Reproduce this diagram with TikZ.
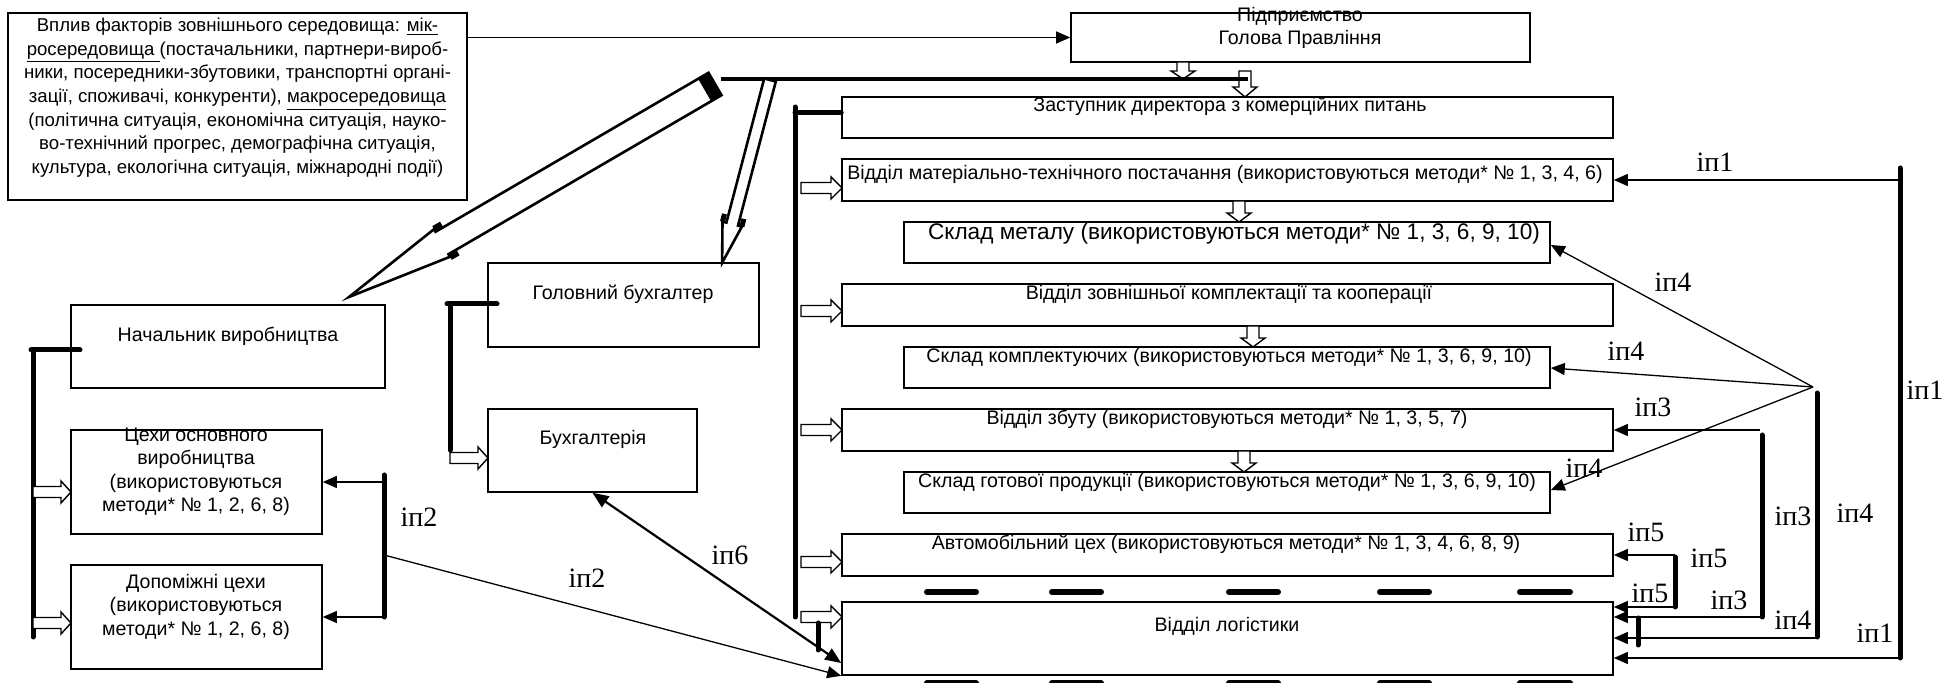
\documentclass[tikz,border=0pt]{standalone}
\usepackage{fontspec}
\setmainfont{Liberation Sans}
\newfontfamily\lblfont{Liberation Serif}
\usetikzlibrary{arrows.meta,fit}
\begin{document}
\begin{tikzpicture}[x=0.5pt,y=-0.5pt,
  box/.style={draw, line width=0.8pt, inner sep=0pt, fit={#1}},
  txt/.style={inner sep=0pt, font=\fontsize{9.8pt}{11.7pt}\selectfont},
  lbl/.style={inner sep=0pt, font=\lblfont\fontsize{14pt}{16pt}\selectfont},
  arr/.style={line width=0.65pt, -{Triangle[length=7pt,width=6pt]}},
  dbl/.style={line width=1.1pt, {Triangle[length=8pt,width=6.5pt]}-{Triangle[length=8pt,width=6.5pt]}},
  bar/.style={line width=2.5pt, line cap=round},
  dsh/.style={line width=3pt, line cap=round},
  hollow/.style={draw, fill=white, line width=0.7pt, line join=miter},
  big/.style={draw, fill=white, line width=1.3pt, line join=miter},
  pics/hr/.style args={#1/#2/#3/#4}{code={\path[hollow] (0,-#2) -- (#1-#4,-#2) -- (#1-#4,-#3) -- (#1,0) -- (#1-#4,#3) -- (#1-#4,#2) -- (0,#2) -- cycle;}}
]
\useasboundingbox (0,0) rectangle (1944,683);

% ---------- boxes ----------
\node[box={(8,13)(467,200)}] (env) {};
\node[box={(1071,13)(1530,62)}] (pid) {};
\node[box={(842,97)(1613,138)}] (zast) {};
\node[box={(842,159)(1613,201)}] (vmt) {};
\node[box={(904,222)(1550,263)}] (skm) {};
\node[box={(842,284)(1613,326)}] (vzk) {};
\node[box={(904,347)(1550,388)}] (skk) {};
\node[box={(842,409)(1613,451)}] (vz) {};
\node[box={(904,472)(1550,513)}] (skg) {};
\node[box={(842,534)(1613,576)}] (avt) {};
\node[box={(842,602)(1613,675)}] (log) {};
\node[box={(71,305)(385,388)}] (nach) {};
\node[box={(71,430)(322,534)}] (tsekh) {};
\node[box={(71,565)(322,669)}] (dop) {};
\node[box={(488,263)(759,347)}] (gb) {};
\node[box={(488,409)(697,492)}] (buh) {};

% ---------- texts ----------
\node[txt, anchor=north, align=center, font=\fontsize{9.3pt}{11.85pt}\selectfont] (envt) at (237.5,14.4) {\strut Вплив факторів зовнішнього середовища: \underline{мік-}\\
\underline{росередовища }(постачальники, партнери-вироб-\\
ники, посередники-збутовики, транспортні органі-\\
зації, споживачі, конкуренти), \underline{макросередовища}\\
(політична ситуація, економічна ситуація, науко-\\
во-технічний прогрес, демографічна ситуація,\\
культура, екологічна ситуація, міжнародні події)};
\node[txt, anchor=north, align=center] (pidt) at (1300,4.6) {\strut Підприємство\\Голова Правління};
\node[txt, anchor=base] (zastt) at (1230,112) {Заступник директора з комерційних питань};
\node[txt, anchor=base] (vmtt) at (1225,179.5) {Відділ матеріально-технічного постачання (використовуються методи* № 1, 3, 4, 6)};
\node[txt, anchor=base, font=\fontsize{11.3pt}{13pt}\selectfont] (skmt) at (1234,239.5) {Склад металу (використовуються методи* № 1, 3, 6, 9, 10)};
\node[txt, anchor=base] (vzkt) at (1229,299.5) {Відділ зовнішньої комплектації та кооперації};
\node[txt, anchor=base] (skkt) at (1229,362.5) {Склад комплектуючих (використовуються методи* № 1, 3, 6, 9, 10)};
\node[txt, anchor=base] (vzt) at (1227,424.5) {Відділ збуту (використовуються методи* № 1, 3, 5, 7)};
\node[txt, anchor=base] (skgt) at (1227,487.5) {Склад готової продукції (використовуються методи* № 1, 3, 6, 9, 10)};
\node[txt, anchor=base] (avtt) at (1226,549.5) {Автомобільний цех (використовуються методи* № 1, 3, 4, 6, 8, 9)};
\node[txt, anchor=base] (logt) at (1227,632) {Відділ логістики};
\node[txt, anchor=base] (nacht) at (228,341.5) {Начальник виробництва};
\node[txt, anchor=base] (gbt) at (623,299.5) {Головний бухгалтер};
\node[txt, anchor=base] (buht) at (593,444.5) {Бухгалтерія};
\node[txt, anchor=north, align=center] (tsekht) at (196,424.6) {\strut Цехи основного\\виробництва\\(використовуються\\методи* № 1, 2, 6, 8)};
\node[txt, anchor=north, align=center] (dopt) at (196,571.6) {\strut Допоміжні цехи\\(використовуються\\методи* № 1, 2, 6, 8)};

% ---------- top connectors ----------
\draw[arr] (env.east |- pid.west) -- (pid.west);
\pic[rotate=-90] at (1183,62) {hr=17/6/12/8};
\pic[rotate=-90] at (1245,71) {hr=26/6/12/10};
\draw[bar, line width=2.2pt, line cap=butt] (721,79) -- (1248,79);

% big hollow arrow to production chief
\path[big] (708.5,72.8) -- (435.5,231.8) -- (434.0,229.2) -- (349,297) -- (450.0,256.8) -- (448.5,254.2) -- (721.5,95.2) -- cycle;
\fill (708.5,72.8) -- (721.5,95.2) -- (711.1,101.2) -- (698.1,78.8) -- cycle;
\draw[line width=3.5pt] (434.0,229.2) -- (441.8,224.7);
\draw[line width=3.5pt] (450.0,256.8) -- (457.8,252.3);
% big hollow arrow to chief accountant
\path[big] (764.2,78.5) -- (726.4,222.6) -- (722.5,221.6) -- (722.1,262.8) -- (741.9,226.6) -- (738.0,225.6) -- (775.8,81.5) -- cycle;
\draw[line width=2.5pt] (722.5,221.6) -- (724.5,213.9);
\draw[line width=2.5pt] (741.9,226.6) -- (743.9,218.9);

% ---------- commercial branch ----------
\draw[bar] (795,107) -- (795,617);
\draw[bar] (795,113) -- (zast.west |- 0,113);
\foreach \yy in {188,311,430,562,617} {\pic at (801,\yy) {hr=41/5.5/11/11};}
\pic[rotate=-90] at (1239,201) {hr=21/6/12/9};
\pic[rotate=-90] at (1253,326) {hr=21/6/12/9};
\pic[rotate=-90] at (1244,451) {hr=21/6/12/9};
\foreach \xa/\xb in {927/976,1052/1101,1229/1278,1380/1429,1520/1570} {
  \draw[dsh] (\xa,592) -- (\xb,592);
  \draw[dsh] (\xa,683) -- (\xb,683);
}
\draw[bar] (818,623) -- (818,650);

% ---------- production ----------
\draw[bar] (31,350) -- (80,350);
\draw[bar] (33,350) -- (33,637);
\pic at (33,492) {hr=38/5.5/11/10};
\pic at (33,623) {hr=38/5.5/11/10};
\coordinate (p2t) at (384,475);
\coordinate (p2b) at (384,617);
\draw[bar] (p2t) -- (p2b);
\draw[arr] (384,482) -- (tsekh.east |- 0,482);
\draw[arr] (p2b) -- (dop.east |- p2b);
\draw[arr] (384,555) -- (log.south west);
\node[lbl] (l2a) at (419,517) {іп2};
\node[lbl] (l2b) at (587,578) {іп2};

% ---------- accounting ----------
\draw[bar] (447,304) -- (497,304);
\draw[bar] (450,304) -- (450,450);
\pic at (450,458) {hr=38/5.5/11/10};
\draw[dbl] (buh.south) -- (log.west |- 0,663);
\node[lbl] (l6) at (730,555) {іп6};

% ---------- right side information flows ----------
\coordinate (b1t) at (1900,168);
\coordinate (b1b) at (1900,658);
\draw[bar] (b1t) -- (b1b);
\draw[arr] (1900,180) -- (vmt.east |- 0,180);
\draw[arr] (b1b) -- (log.east |- b1b);
\node[lbl] (l1a) at (1715,162) {іп1};
\node[lbl] (l1b) at (1925,390) {іп1};
\node[lbl] (l1c) at (1875,633) {іп1};

\coordinate (fan) at (1813,387);
\draw[arr] (fan) -- (skm.east |- 0,245);
\draw[arr] (fan) -- (skk.east |- 0,368);
\draw[arr] (fan) -- (skg.east |- 0,490);
\coordinate (b4t) at (1817,393);
\coordinate (b4b) at (1817,637);
\draw[bar] (b4t) -- (b4b);
\draw[arr] (1817,638) -- (log.east |- 0,638);
\node[lbl] (l4a) at (1673,282) {іп4};
\node[lbl] (l4b) at (1626,351) {іп4};
\node[lbl] (l4c) at (1584,468) {іп4};
\node[lbl] (l4d) at (1855,513) {іп4};
\node[lbl] (l4e) at (1793,620) {іп4};

\coordinate (b3t) at (1762,435);
\coordinate (b3b) at (1762,617);
\draw[bar] (b3t) -- (b3b);
\draw[arr] (1760,430) -- (vz.east |- 0,430);
\draw[arr] (b3b) -- (log.east |- b3b);
\node[lbl] (l3a) at (1653,407) {іп3};
\node[lbl] (l3b) at (1793,516) {іп3};
\node[lbl] (l3c) at (1729,600) {іп3};

\coordinate (b5t) at (1675,557);
\coordinate (b5b) at (1675,607);
\draw[bar] (b5t) -- (b5b);
\draw[arr] (1675,555) -- (avt.east |- 0,555);
\draw[arr] (b5b) -- (log.east |- b5b);
\node[lbl] (l5a) at (1646,532) {іп5};
\node[lbl] (l5b) at (1709,558) {іп5};
\node[lbl] (l5c) at (1650,593) {іп5};
\draw[bar] (1638,618) -- (1638,645);
\end{tikzpicture}
\end{document}
